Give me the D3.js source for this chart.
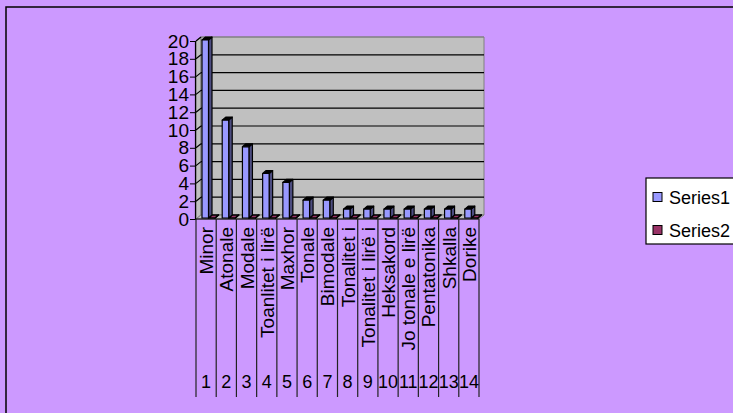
<!DOCTYPE html>
<html>
<head>
<meta charset="utf-8">
<script src="https://cdn.jsdelivr.net/npm/d3@7"></script>
<style>
  html, body { margin: 0; padding: 0; background: #CC99FF; }
  svg { display: block; font-family: Arial, "Liberation Sans", sans-serif; }
</style>
</head>
<body>
<svg id="chart" width="733" height="413"></svg>
<script>
// Categories (with their running numbers) and series values
const categories = ["Minor", "Atonale", "Modale", "Toanlitet i lirë", "Maxhor", "Tonale", "Bimodale",
  "Tonalitet i", "Tonalitet i lirë i", "Heksakord", "Jo tonale e lirë", "Pentatonika", "Shkalla", "Dorike"];
const numbers = ["1", "2", "3", "4", "5", "6", "7", "8", "9", "10", "11", "12", "13", "14"];
const series1 = [20, 11, 8, 5, 4, 2, 2, 1, 1, 1, 1, 1, 1, 1];
const series2 = [0, 0, 0, 0, 0, 0, 0, 0, 0, 0, 0, 0, 0, 0];
const seriesNames = ["Series1", "Series2"];
const yTicks = [0, 2, 4, 6, 8, 10, 12, 14, 16, 18, 20];

const colors = {
  s1: "#9999FF", s1side: "#4D4D80",
  s2: "#993366", s2side: "#4D1A33",
  wall: "#C0C0C0"
};

const svg = d3.select("#chart");

// Chart area frame
svg.append("rect")
  .attr("x", 6).attr("y", 7).attr("width", 760).attr("height", 430)
  .attr("fill", "#CC99FF").attr("stroke", "#000").attr("stroke-width", 1.5);

// Front plane scales and 3D depth offset
const x = d3.scaleBand().domain(d3.range(categories.length)).range([196, 479]);
const y = d3.scaleLinear().domain([0, 20]).range([219, 41]);
const dX = 5, dY = -4;
const x0 = x.range()[0], x1 = x.range()[1];

const wall = svg.append("g");
// side wall
wall.append("polygon")
  .attr("points", [[x0, y(20)], [x0 + dX, y(20) + dY], [x0 + dX, y(0) + dY], [x0, y(0)]].join(" "))
  .attr("fill", colors.wall).attr("stroke", "#808080").attr("stroke-width", 1);
// back wall
wall.append("polygon")
  .attr("points", [[x0 + dX, y(20) + dY], [x1 + dX, y(20) + dY], [x1 + dX, y(0) + dY], [x0 + dX, y(0) + dY]].join(" "))
  .attr("fill", colors.wall).attr("stroke", "#808080").attr("stroke-width", 1);
// floor
wall.append("polygon")
  .attr("points", [[x0, y(0)], [x1, y(0)], [x1 + dX, y(0) + dY], [x0 + dX, y(0) + dY]].join(" "))
  .attr("fill", colors.wall).attr("stroke", "#808080").attr("stroke-width", 1);

// gridlines on back wall and side wall
const grid = svg.append("g").attr("stroke", "#000").attr("stroke-width", 1.2);
yTicks.filter(t => t > 0).forEach(t => {
  grid.append("line")
    .attr("x1", x0 + dX).attr("x2", x1 + dX)
    .attr("y1", y(t) + dY).attr("y2", y(t) + dY)
    .attr("stroke", t === 20 ? "#808080" : "#000");
  grid.append("line")
    .attr("x1", x0).attr("x2", x0 + dX)
    .attr("y1", y(t)).attr("y2", y(t) + dY);
});

// Value axis
const yAxis = d3.axisLeft(y).tickValues(yTicks).tickSize(5).tickPadding(1);
const gy = svg.append("g").attr("transform", `translate(${x0 - 1},0)`).call(yAxis);
gy.select(".domain").attr("stroke", "#000").attr("stroke-width", 1.2);
gy.selectAll(".tick line").attr("stroke", "#000");
gy.selectAll(".tick text").attr("font-size", 19).attr("fill", "#000")
  .attr("font-family", "Arial, 'Liberation Sans', sans-serif");

// Bars as 3D boxes
const barW = 6.5, depthX = 3.5, depthY = -3;
function box(g, bx, v, fill, side) {
  const yb = y(0) - 1, yt = y(v) - 1;
  const front = g.append("g").attr("stroke", "#000").attr("stroke-width", v > 0 ? 1.2 : 1.6)
    .attr("stroke-linejoin", "round");
  front.append("polygon")
    .attr("points", [[bx + barW, yb], [bx + barW + depthX, yb + depthY], [bx + barW + depthX, yt + depthY], [bx + barW, yt]].join(" "))
    .attr("fill", side);
  front.append("polygon")
    .attr("points", [[bx, yt], [bx + depthX, yt + depthY], [bx + barW + depthX, yt + depthY], [bx + barW, yt]].join(" "))
    .attr("fill", v > 0 ? "#000" : fill);
  if (v > 0) {
    front.append("rect")
      .attr("x", bx).attr("y", yt).attr("width", barW).attr("height", yb - yt)
      .attr("fill", fill);
  }
}
const bars = svg.append("g");
categories.forEach((c, i) => {
  const bx = x(i);
  box(bars, bx + 12.5, series2[i], colors.s2, colors.s2side);
  box(bars, bx + 6, series1[i], colors.s1, colors.s1side);
});

// Category axis: front floor edge, dividers, rotated names and numbers
const cat = svg.append("g");
cat.append("line").attr("x1", x0).attr("x2", x1).attr("y1", y(0)).attr("y2", y(0))
  .attr("stroke", "#000").attr("stroke-width", 1.2);
d3.range(categories.length + 1).forEach(i => {
  const lx = x0 + i * x.step();
  cat.append("line").attr("x1", lx).attr("x2", lx).attr("y1", y(0)).attr("y2", 397)
    .attr("stroke", "#222").attr("stroke-width", 1.2);
});
cat.selectAll("text.name").data(categories).join("text")
  .attr("class", "name")
  .attr("transform", (d, i) => `translate(${x(i) + x.bandwidth() / 2 + 7},227) rotate(-90)`)
  .attr("text-anchor", "end")
  .attr("font-size", 19)
  .text(d => d);
cat.selectAll("text.num").data(numbers).join("text")
  .attr("class", "num")
  .attr("x", (d, i) => x(i) + x.bandwidth() / 2)
  .attr("y", 388)
  .attr("text-anchor", "middle")
  .attr("font-size", 18)
  .text(d => d);

// Legend
const legend = svg.append("g");
legend.append("rect").attr("x", 646).attr("y", 178).attr("width", 120).attr("height", 66)
  .attr("fill", "#fff").attr("stroke", "#000").attr("stroke-width", 1.2);
const legendColors = [colors.s1, colors.s2];
seriesNames.forEach((s, i) => {
  const cy = 197 + i * 33;
  legend.append("rect").attr("x", 653).attr("y", cy - 4.5).attr("width", 9).attr("height", 9)
    .attr("fill", legendColors[i]).attr("stroke", "#000").attr("stroke-width", 1);
  legend.append("text").attr("x", 669).attr("y", cy + 6.5).attr("font-size", 18).text(s);
});
</script>
</body>
</html>
